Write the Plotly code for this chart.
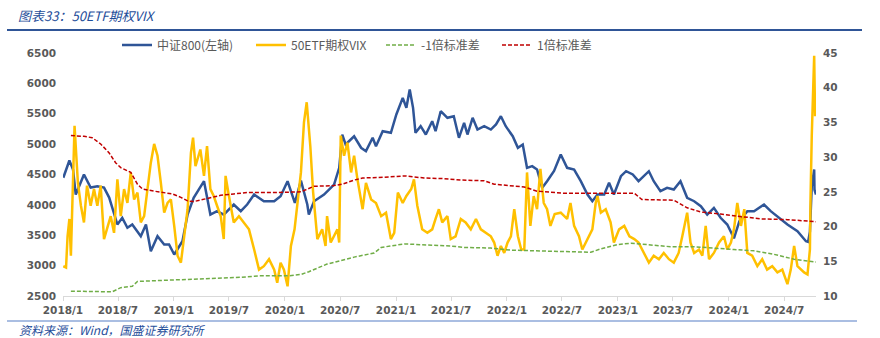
import plotly.graph_objects as go

# ---------------- data ----------------
csi_dates = [
    "2018-01-02", "2018-01-22", "2018-02-03", "2018-02-12", "2018-03-11", "2018-04-02",
    "2018-04-24", "2018-05-16", "2018-06-02", "2018-06-29", "2018-07-15", "2018-08-01",
    "2018-08-17", "2018-09-14", "2018-10-01", "2018-10-17", "2018-11-08", "2018-11-30",
    "2018-12-16", "2019-01-02", "2019-01-29", "2019-02-15", "2019-03-07", "2019-04-10",
    "2019-05-01", "2019-05-23", "2019-06-14", "2019-07-17", "2019-08-09", "2019-08-30",
    "2019-09-22", "2019-10-24", "2019-11-27", "2019-12-18", "2020-01-10", "2020-02-03",
    "2020-02-23", "2020-03-04", "2020-03-15", "2020-03-20", "2020-04-06", "2020-05-09",
    "2020-06-11", "2020-06-28", "2020-07-08", "2020-07-19", "2020-08-16", "2020-09-08",
    "2020-09-24", "2020-10-16", "2020-10-27", "2020-11-18", "2020-12-15", "2021-01-02",
    "2021-01-23", "2021-02-04", "2021-02-15", "2021-02-26", "2021-03-06", "2021-03-23",
    "2021-04-09", "2021-04-30", "2021-05-11", "2021-05-28", "2021-06-19", "2021-07-10",
    "2021-07-27", "2021-08-13", "2021-08-24", "2021-09-10", "2021-09-26", "2021-10-18",
    "2021-11-09", "2021-11-26", "2021-12-12", "2021-12-28", "2022-01-20", "2022-02-06",
    "2022-02-22", "2022-03-08", "2022-03-25", "2022-04-10", "2022-04-27", "2022-05-13",
    "2022-06-05", "2022-06-27", "2022-07-18", "2022-08-10", "2022-09-01", "2022-09-23",
    "2022-10-09", "2022-10-26", "2022-11-17", "2022-12-03", "2022-12-19", "2023-01-11",
    "2023-01-28", "2023-02-19", "2023-03-10", "2023-04-13", "2023-04-29", "2023-05-21",
    "2023-06-12", "2023-07-04", "2023-07-26", "2023-08-17", "2023-09-09", "2023-10-01",
    "2023-10-22", "2023-11-13", "2023-12-05", "2023-12-27", "2024-01-18", "2024-02-05",
    "2024-03-02", "2024-03-24", "2024-04-26", "2024-05-18", "2024-06-20", "2024-07-12",
    "2024-08-14", "2024-09-11", "2024-09-18", "2024-09-24", "2024-09-30", "2024-10-08",
    "2024-10-09", "2024-10-14",
]
csi800 = [
    4447, 4730, 4582, 4170, 4500, 4285,
    4307, 4285, 4120, 3677, 3787, 3623,
    3677, 3485, 3677, 3237, 3485, 3348,
    3348, 3183, 3402, 3840, 4116, 4390,
    3840, 3896, 3840, 4006, 3896, 4006,
    4170, 4060, 4060, 4143, 4390, 4034,
    4400, 4200, 4006, 3840, 4060, 4170,
    4335, 4610, 5158, 4994, 5130, 4940,
    4884, 5104, 4966, 5213, 5186, 5488,
    5762, 5598, 5899, 5598, 5186, 5295,
    5158, 5377, 5213, 5542, 5433, 5460,
    5104, 5351, 5158, 5433, 5240, 5295,
    5240, 5323, 5460, 5295, 5130, 4940,
    4994, 4610, 4637, 4582, 4281, 4390,
    4560, 4829, 4610, 4582, 4390, 4170,
    4060, 4170, 4170, 4363, 4170, 4472,
    4554, 4500, 4390, 4554, 4390, 4225,
    4281, 4253, 4390, 4116, 4060, 3978,
    3841, 3951, 3787, 3677, 3450, 3731,
    3896, 3896, 4006, 3896, 3759, 3677,
    3567, 3402, 3390, 3560, 4300, 4582,
    4250, 4170,
]

vix_dates = [
    "2018-01-02", "2018-01-11", "2018-01-16", "2018-01-22", "2018-01-27", "2018-02-08",
    "2018-02-19", "2018-03-01", "2018-03-11", "2018-03-21", "2018-04-02", "2018-04-13",
    "2018-04-24", "2018-05-05", "2018-05-16", "2018-05-26", "2018-06-07", "2018-06-18",
    "2018-06-29", "2018-07-10", "2018-07-21", "2018-08-01", "2018-08-12", "2018-08-23",
    "2018-09-03", "2018-09-14", "2018-09-25", "2018-10-06", "2018-10-17", "2018-10-28",
    "2018-11-08", "2018-11-19", "2018-11-30", "2018-12-11", "2018-12-22", "2019-01-02",
    "2019-01-13", "2019-01-24", "2019-02-05", "2019-02-15", "2019-02-26", "2019-03-05",
    "2019-03-13", "2019-03-29", "2019-04-10", "2019-04-20", "2019-05-01", "2019-05-12",
    "2019-05-23", "2019-06-04", "2019-06-14", "2019-06-20", "2019-07-01", "2019-07-17",
    "2019-08-03", "2019-08-19", "2019-09-05", "2019-09-22", "2019-10-08", "2019-10-24",
    "2019-11-10", "2019-11-27", "2019-12-07", "2019-12-18", "2019-12-29", "2020-01-10",
    "2020-01-21", "2020-02-02", "2020-02-12", "2020-02-23", "2020-03-04", "2020-03-13",
    "2020-03-25", "2020-04-03", "2020-04-17", "2020-05-03", "2020-05-14", "2020-05-19",
    "2020-05-31", "2020-06-11", "2020-06-22", "2020-06-28", "2020-07-03", "2020-07-14",
    "2020-07-25", "2020-08-06", "2020-08-16", "2020-08-27", "2020-09-13", "2020-09-24",
    "2020-10-11", "2020-10-27", "2020-11-13", "2020-11-29", "2020-12-15", "2020-12-26",
    "2021-01-07", "2021-01-23", "2021-02-04", "2021-02-20", "2021-03-01", "2021-03-12",
    "2021-03-28", "2021-04-14", "2021-04-30", "2021-05-11", "2021-05-22", "2021-06-02",
    "2021-06-19", "2021-06-30", "2021-07-16", "2021-08-02", "2021-08-18", "2021-09-04",
    "2021-09-21", "2021-10-07", "2021-10-23", "2021-11-09", "2021-11-20", "2021-12-01",
    "2021-12-12", "2021-12-23", "2022-01-03", "2022-01-14", "2022-01-25", "2022-02-06",
    "2022-02-17", "2022-02-27", "2022-03-08", "2022-03-19", "2022-03-30", "2022-04-10",
    "2022-04-21", "2022-05-02", "2022-05-13", "2022-05-24", "2022-06-07", "2022-06-27",
    "2022-07-18", "2022-07-29", "2022-08-10", "2022-08-26", "2022-09-06", "2022-09-23",
    "2022-10-09", "2022-10-20", "2022-10-26", "2022-11-06", "2022-11-22", "2022-12-08",
    "2022-12-19", "2023-01-05", "2023-01-22", "2023-02-08", "2023-02-24", "2023-03-10",
    "2023-03-27", "2023-04-13", "2023-04-29", "2023-05-16", "2023-06-01", "2023-06-18",
    "2023-07-04", "2023-07-20", "2023-08-01", "2023-08-17", "2023-08-28", "2023-09-09",
    "2023-09-25", "2023-10-06", "2023-10-17", "2023-10-28", "2023-11-13", "2023-11-30",
    "2023-12-16", "2023-12-27", "2024-01-08", "2024-01-18", "2024-01-29", "2024-02-10",
    "2024-02-21", "2024-03-02", "2024-03-18", "2024-04-04", "2024-04-20", "2024-05-06",
    "2024-05-23", "2024-06-09", "2024-06-25", "2024-07-12", "2024-07-23", "2024-08-03",
    "2024-08-14", "2024-08-25", "2024-09-05", "2024-09-16", "2024-09-24", "2024-09-26",
    "2024-09-30", "2024-10-08", "2024-10-11",
]
vix = [
    14.3, 14.1, 18.6, 21.1, 15.8, 34.5,
    26.3, 23.0, 20.6, 25.9, 23.0, 25.4,
    23.0, 25.9, 18.2, 19.6, 21.5, 19.1,
    26.8, 21.5, 25.4, 23.4, 27.8, 23.9,
    24.9, 20.6, 21.5, 25.4, 29.2, 31.9,
    30.2, 26.3, 22.0, 23.4, 23.9, 20.1,
    15.8, 14.8, 18.6, 22.5, 30.6, 32.8,
    28.7, 31.1, 27.3, 31.6, 25.4, 24.4,
    23.0, 21.5, 18.2, 27.3, 24.4, 20.6,
    21.5, 20.6, 19.6, 16.7, 13.8, 14.3,
    15.3, 13.8, 11.9, 14.8, 13.8, 11.4,
    17.2, 19.6, 23.4, 27.8, 35.0, 37.9,
    31.5, 25.0, 18.2, 19.6, 17.2, 21.5,
    17.7, 18.6, 19.6, 17.7, 33.1, 30.2,
    32.1, 27.8, 30.2, 26.8, 22.5, 26.3,
    23.9, 23.4, 21.5, 22.0, 18.2, 19.1,
    24.9, 23.4, 24.4, 25.4, 26.8, 23.0,
    19.6, 19.1, 19.6, 21.1, 22.5, 20.6,
    21.5, 18.2, 18.6, 21.1, 20.6, 19.6,
    21.1, 19.6, 19.1, 18.6, 17.7, 15.8,
    17.2, 16.2, 17.7, 18.6, 22.5, 18.6,
    16.7, 16.7, 27.8, 20.1, 24.4, 22.5,
    28.3, 23.4, 22.5, 20.1, 21.8, 22.0,
    21.1, 23.4, 20.1, 18.6, 16.7, 18.2,
    19.6, 23.4, 24.4, 22.0, 22.5, 20.6,
    17.7, 19.6, 20.1, 18.6, 18.2, 17.7,
    16.2, 14.8, 15.8, 15.3, 16.2, 15.3,
    14.8, 16.2, 18.6, 22.0, 17.7, 16.2,
    16.7, 15.8, 20.1, 15.3, 16.2, 17.7,
    18.6, 16.7, 17.7, 19.6, 23.4, 20.1,
    22.5, 16.2, 15.8, 14.3, 15.3, 13.8,
    14.3, 13.4, 13.8, 11.7, 13.8, 17.2,
    14.3, 13.8, 13.4, 13.1, 16.7, 24.0,
    33.0, 44.6, 35.9,
]

up_dates = [
    "2018-01-27", "2018-03-11", "2018-04-07", "2018-05-05", "2018-06-02", "2018-06-23",
    "2018-07-10", "2018-08-12", "2018-09-03", "2018-09-20", "2018-10-28", "2018-11-30",
    "2018-12-27", "2019-01-24", "2019-02-15", "2019-03-07", "2019-04-04", "2019-05-01",
    "2019-06-04", "2019-07-17", "2019-08-30", "2019-11-27", "2020-02-23", "2020-03-15",
    "2020-04-06", "2020-06-11", "2020-07-08", "2020-08-16", "2020-09-13", "2020-11-24",
    "2021-01-29", "2021-04-03", "2021-06-08", "2021-08-02", "2021-10-18", "2021-11-20",
    "2022-01-14", "2022-02-27", "2022-04-10", "2022-05-24", "2022-07-08", "2022-09-23",
    "2023-02-24", "2023-03-21", "2023-07-04", "2023-08-17", "2023-10-01", "2023-12-05",
    "2024-02-10", "2024-04-15", "2024-07-12", "2024-10-14",
]
up_sd = [
    33.1, 33.0, 32.8, 31.9, 30.6, 29.2,
    28.5, 27.8, 26.1, 25.4, 25.1, 24.9,
    24.7, 24.2, 23.7, 23.6, 23.9, 24.2,
    24.5, 24.7, 24.9, 24.9, 25.0, 25.4,
    25.8, 25.9, 26.1, 26.7, 27.0, 27.1,
    27.3, 27.0, 26.9, 26.7, 26.6, 26.1,
    25.9, 25.7, 25.1, 24.9, 24.8, 24.8,
    24.8, 23.9, 23.8, 22.7, 22.1, 21.8,
    21.4, 21.1, 21.0, 20.7,
]

lo_dates = [
    "2018-01-27", "2018-03-21", "2018-06-12", "2018-07-10", "2018-08-17", "2018-09-03",
    "2018-10-28", "2019-02-15", "2019-06-04", "2019-08-09", "2019-10-11", "2020-01-10",
    "2020-02-23", "2020-03-20", "2020-05-19", "2020-08-16", "2020-10-21", "2020-11-13",
    "2021-01-29", "2021-04-03", "2021-06-30", "2021-08-13", "2021-11-09", "2022-01-14",
    "2022-04-10", "2022-07-08", "2022-10-04", "2022-11-06", "2022-12-30", "2023-02-13",
    "2023-04-29", "2023-06-23", "2023-09-09", "2023-11-03", "2024-01-18", "2024-03-24",
    "2024-05-29", "2024-08-03", "2024-10-14",
]
lo_sd = [
    10.7, 10.7, 10.6, 11.2, 11.4, 12.1,
    12.2, 12.3, 12.5, 12.7, 12.9, 12.9,
    13.1, 13.5, 14.6, 15.6, 16.2, 17.0,
    17.5, 17.4, 17.2, 17.0, 16.9, 16.6,
    16.5, 16.5, 16.3, 16.8, 17.4, 17.6,
    17.3, 17.1, 17.1, 16.9, 16.7, 16.5,
    16.0, 15.3, 14.9,
]

tick_vals = [
    "2018-01-01", "2018-07-01", "2019-01-01", "2019-07-01", "2020-01-01", "2020-07-01",
    "2021-01-01", "2021-07-01", "2022-01-01", "2022-07-01", "2023-01-01", "2023-07-01",
    "2024-01-01", "2024-07-01",
]
tick_text = [
    "2018/1", "2018/7", "2019/1", "2019/7", "2020/1", "2020/7", "2021/1", "2021/7",
    "2022/1", "2022/7", "2023/1", "2023/7", "2024/1", "2024/7",
]

names = ["中证800(左轴)", "50ETF期权VIX", "-1倍标准差", "1倍标准差"]
title_text = "图表33：50ETF期权VIX"
source_text = "资料来源：Wind，国盛证券研究所"

# ---------------- layout helpers ----------------
FW, FH = 880, 338
ML, MR, MT, MB = 63, 64, 53, 42
PW = FW - ML - MR
PH = FH - MT - MB


def px(x):
    return (x - ML) / PW


def py(y):
    return (FH - MB - y) / PH


CJK = "Noto Sans CJK SC"
tickfont = dict(family="DejaVu Sans", size=10.5, color="#595959", weight="bold")
legfont = dict(family=CJK, size=12, color="#595959")

fig = go.Figure()
fig.add_trace(go.Scatter(x=csi_dates, y=csi800, name=names[0], mode="lines",
                         line=dict(color="#2F5597", width=2.5), legend="legend"))
fig.add_trace(go.Scatter(x=vix_dates, y=vix, name=names[1], mode="lines", yaxis="y2",
                         line=dict(color="#FFC000", width=2.5), legend="legend2"))
fig.add_trace(go.Scatter(x=lo_dates, y=lo_sd, name=names[2], mode="lines", yaxis="y2",
                         line=dict(color="#70AD47", width=1.5, dash="4px,2px"), legend="legend3"))
fig.add_trace(go.Scatter(x=up_dates, y=up_sd, name=names[3], mode="lines", yaxis="y2",
                         line=dict(color="#C00000", width=1.5, dash="4px,2px"), legend="legend4"))


def leg(xpix):
    return dict(x=px(xpix), y=py(45), xanchor="left", yanchor="middle",
                orientation="h", font=legfont, bgcolor="rgba(0,0,0,0)",
                borderwidth=0, itemwidth=30, tracegroupgap=0)


fig.update_layout(
    width=FW, height=FH,
    margin=dict(l=ML, r=MR, t=MT, b=MB, pad=0),
    paper_bgcolor="white", plot_bgcolor="white",
    showlegend=True,
    legend=leg(117), legend2=leg(251), legend3=leg(381), legend4=leg(497),
    xaxis=dict(type="date", range=["2018-01-01", "2024-10-14"],
               tickmode="array", tickvals=tick_vals, ticktext=tick_text,
               ticks="outside", ticklen=4, tickcolor="#D9D9D9", tickwidth=1,
               showline=True, linecolor="#D9D9D9", linewidth=1,
               showgrid=False, zeroline=False, tickfont=tickfont),
    yaxis=dict(range=[2500, 6500], tick0=2500, dtick=500, showgrid=False,
               zeroline=False, showline=False, ticks="", tickfont=tickfont,
               ticklabelstandoff=6),
    yaxis2=dict(range=[10, 45], tick0=10, dtick=5, overlaying="y", side="right",
                showgrid=False, zeroline=False, showline=False, ticks="",
                tickfont=tickfont, ticklabelstandoff=6),
    shapes=[
        dict(type="line", xref="paper", yref="paper", x0=px(7), x1=px(862),
             y0=py(30), y1=py(30), line=dict(color="#2F5597", width=2)),
        dict(type="line", xref="paper", yref="paper", x0=px(7), x1=px(857),
             y0=py(321), y1=py(321), line=dict(color="#8EA9D8", width=1.5)),
    ],
    annotations=[
        dict(text=title_text, xref="paper", yref="paper", x=px(17), y=py(16),
             xanchor="left", yanchor="middle", showarrow=False, borderpad=0,
             font=dict(family=CJK, size=13, color="#1F4E9A", style="italic")),
        dict(text=source_text, xref="paper", yref="paper", x=px(18), y=py(329),
             xanchor="left", yanchor="middle", showarrow=False, borderpad=0,
             font=dict(family=CJK, size=12, color="#1F4E9A", style="italic")),
    ],
)

fig.write_html("out.html")
